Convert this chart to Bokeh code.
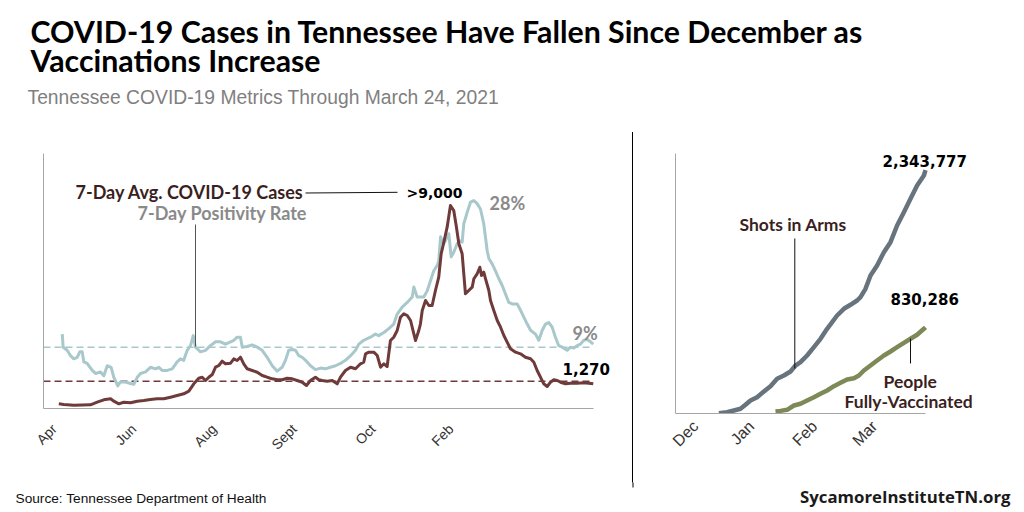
import math
from bokeh.plotting import figure
from bokeh.models import Range1d, FixedTicker, Label, Div
from bokeh.layouts import column, row
from bokeh.embed import file_html
from bokeh.resources import INLINE

# ---------------- data: left panel (days since start of series) ----------------
rate_day = [2.3, 2.9, 5.6, 7.8, 10, 12.3, 14, 15.6, 16.7, 18.9, 22.3, 24.5, 27.8, 30, 32.3, 34.9, 36.7, 39.3,
            41.1, 44.5, 47.8, 50, 52.3, 54.5, 57.8, 61.1, 64.5, 66.7, 68.9, 72.3, 75.6, 78.9, 81.1, 83.3, 85.6,
            87.8, 89.6, 91.1, 94.5, 97.8, 101.1, 104.5, 107.8, 111.1, 114.5, 116.7, 118.9, 121.1, 122.3, 125.6,
            128.9, 132.3, 135.6, 138.9, 142.3, 145.6, 148.9, 151.1, 153.3, 155.6, 157.8, 160, 162.3, 164.5, 167.8,
            171.1, 174.5, 177.8, 181.1, 184.5, 187.8, 191.1, 194.5, 197.8, 200, 203.3, 205.6, 207.8, 211.1, 213.3,
            216.7, 220, 223.3, 225.6, 228.9, 232.3, 235.6, 236.7, 238.9, 241.1, 243.3, 245.6, 247.8, 250, 252.3,
            253.3, 254.5, 256.3, 257.8, 258.9, 260, 261.6, 263.3, 265.6, 267.3, 268.9, 270, 272.3, 274.5, 276.7,
            278.9, 281.1, 283.3, 285.6, 286.7, 288.9, 291.1, 293.3, 295.6, 297.8, 300, 302.3, 305.6, 307.8, 310,
            312.3, 314.5, 317.8, 320, 322.3, 324.5, 326.7, 328.9, 331.1, 333.3, 335.6, 338.9, 341.1, 343.3, 345.6,
            347.8, 350, 352.3, 354.5, 356.3]
rate_pct = [10.7, 9.0, 8.6, 7.9, 7.5, 7.7, 8.4, 8.4, 7.1, 6.9, 6.0, 5.6, 5.8, 5.3, 6.6, 6.4, 5.1, 4.0,
            4.5, 4.5, 4.3, 4.2, 5.1, 5.6, 5.8, 6.4, 6.2, 6.4, 6.0, 6.0, 6.2, 7.1, 7.5, 7.3, 8.6,
            9.2, 10.5, 9.0, 8.4, 8.6, 9.2, 9.7, 9.7, 9.4, 9.7, 9.9, 10.3, 10.3, 9.0, 9.1,
            9.3, 9.0, 8.6, 7.7, 6.6, 5.9, 6.4, 7.3, 8.6, 8.7, 8.6, 7.9, 7.7, 7.3, 6.6,
            6.1, 6.3, 6.2, 6.4, 6.6, 6.9, 7.3, 7.9, 8.6, 9.4, 9.9, 10.1, 10.3, 10.7, 10.5,
            10.9, 11.4, 12.0, 13.3, 14.2, 14.8, 15.5, 16.8, 15.5, 15.5, 15.5, 16.3, 17.6, 18.9, 19.6,
            20.2, 23.3, 22.4, 22.8, 23.3, 23.7, 20.7, 21.3, 22.4, 22.8, 22.6, 25.0, 26.5, 27.8, 28.0,
            27.6, 26.9, 25.0, 21.5, 20.5, 19.8, 18.9, 17.9, 17.0, 15.9, 14.8, 14.6, 14.6, 13.8, 12.9,
            12.0, 11.2, 10.7, 9.9, 11.2, 12.0, 12.2, 11.6, 10.3, 9.2, 9.0, 8.6, 9.0, 8.9, 9.2,
            9.4, 9.9, 10.0, 9.7, 9.4]
case_day = [0, 3.3, 10, 21.1, 25.6, 30, 34.5, 36.7, 40, 43.3, 47.8, 52.3, 56.7, 61.1, 65.6, 70, 74.5, 78.9,
            83.3, 86.7, 90, 93.3, 95.6, 97.8, 100, 102.3, 104.5, 106.7, 108.9, 111.1, 114.5, 116.7, 118.9, 121.1,
            123.3, 125.6, 128.9, 132.3, 135.6, 138.9, 142.3, 145.6, 148.9, 152.3, 155.6, 158.9, 162.3, 165.1,
            167.8, 171.1, 173.3, 175.6, 178.9, 182.3, 185.6, 187.8, 191.1, 194.5, 197.8, 201.1, 203.3, 204.5,
            206.7, 210, 212.3, 214.5, 216.7, 218.9, 221.1, 223.3, 225.6, 227.8, 230, 232.3, 234.5, 236.7, 237.8,
            240, 241.1, 242.3, 244.5, 246.7, 248.9, 251.1, 253.3, 254.9, 256.7, 258.9, 261.1, 263.3, 265.1,
            266.7, 268.9, 270, 271.1, 273.3, 275.6, 276.7, 278.9, 280.7, 281.8, 283.3, 284.5, 286.7, 287.8, 290,
            292.3, 294.5, 296.7, 298.9, 301.1, 304.5, 307.8, 311.1, 314.5, 316.7, 318.9, 321.1, 323.3, 325.6,
            327.8, 330, 332.3, 334.5, 337.8, 341.1, 345.6, 350, 353.3, 356.3]
case_avg = [218, 186, 153, 172, 293, 405, 451, 340, 218, 293, 265, 340, 372, 419, 451, 451, 526, 605,
            684, 805, 1149, 1409, 1456, 1302, 1456, 1581, 1921, 2000, 2200, 2079, 2107, 2312, 2233, 2386,
            2079, 1847, 1767, 1688, 1535, 1456, 1381, 1335, 1335, 1409, 1381, 1302, 1223, 1070,
            1302, 1456, 1335, 1302, 1270, 1302, 1149, 1456, 1767, 1921, 1847, 2079, 2153, 2544,
            2619, 2619, 2465, 1921, 2079, 1953, 3163, 3316, 3628, 4247, 4405, 4326, 4093, 3474, 3163,
            3628, 3940, 4558, 5023, 4791, 4791, 5488, 6107, 7195, 7735, 8433, 9442, 9209, 8433,
            7660, 7195, 6265, 5335, 5488, 5642, 6033, 6265, 6572, 6186, 6340, 6033, 5488, 5023, 4558,
            4093, 3781, 3395, 3084, 2777, 2619, 2544, 2386, 2312, 2153, 1767, 1456, 1149, 1023,
            1223, 1335, 1302, 1223, 1149, 1177, 1177, 1195, 1177, 1149]
left_ticks = [-3, 50, 103.5, 157, 209.5, 261.5]
left_tick_labels = ["Apr", "Jun", "Aug", "Sept", "Oct", "Feb"]
rate_ref = 9
case_ref = 1270

# ---------------- data: right panel (days since Dec 1, 2020) ----------------
shots_day = [10.7, 14.8, 18.2, 21.5, 24, 26.5, 29.8, 33.2, 36.5, 39.8, 43.2, 46.5, 49, 51.5, 54.8, 58.2, 61.5,
             64.8, 69.8, 73.2, 76.5, 79.8, 81.5, 84, 86.5, 89.8, 93.2, 96.5, 99.8, 103.2, 106.5, 109.8, 113.2, 114]
shots_total = [3000, 12500, 28900, 45300, 83800, 125200, 157000, 211900, 262900, 334200, 365900, 404500,
               462200, 494000, 558500, 638500, 719400, 815700, 943700, 1008300, 1046800, 1088200, 1120000,
               1200900, 1328900, 1425200, 1553300, 1649600, 1810400, 1938500, 2067600, 2195600, 2291900, 2343777]
full_day = [39, 41.5, 44.8, 48.2, 51.5, 54.8, 58.2, 61.5, 64.8, 68.2, 71.5, 74.8, 78.2, 80.7, 83.2, 86.5,
            89.8, 93.2, 96.5, 99.8, 103.2, 106.5, 109.8, 113.2, 114]
full_total = [20000, 25000, 35600, 77000, 93400, 125200, 157000, 189700, 221500, 262900, 295600, 327400,
              339900, 365900, 414100, 462200, 510400, 558500, 597100, 638500, 680800, 719400, 757900, 815700, 830286]
right_ticks = [-1, 27, 58.5, 88.5]
right_tick_labels = ["Dec", "Jan", "Feb", "Mar"]

# ---------------- styles ----------------
C_CASE = "#6f3a3a"
C_RATE = "#a8c8cc"
C_SHOT = "#67737d"
C_FULL = "#7d8a58"
C_AXIS = "#a6a6a6"
C_LBL_DARK = "#3b1f1f"
C_GRAY = "#8a8a8a"
F_HEAD = "Lato"
F_NUM = "DejaVu Sans"
F_SANS = "Liberation Sans"


def base_fig(w, h, xr, yr, bl, br, bt, bb, axes=True):
    kw = dict(width=w, height=h, x_range=xr, y_range=yr, output_backend="svg",
              toolbar_location=None, min_border_left=bl, min_border_right=br,
              min_border_top=bt, min_border_bottom=bb)
    if not axes:
        kw.update(x_axis_type=None, y_axis_type=None)
    p = figure(**kw)
    p.outline_line_color = None
    p.background_fill_color = "white"
    p.border_fill_color = "white"
    if axes:
        p.xgrid.grid_line_color = None
        p.ygrid.grid_line_color = None
    return p


def mapper(p0, p1, v0, v1):
    return lambda px: v0 + (px - p0) * (v1 - v0) / (p1 - p0)


def lab(p, x, y, text, size, color, font, bold=True, align="left"):
    p.add_layout(Label(x=x, y=y, text=text, text_font=font, text_font_size=size,
                       text_font_style="bold" if bold else "normal", text_color=color,
                       text_align=align, text_baseline="middle"))


def style_axes(p, ticks, labels, size, standoff, xbounds):
    ax = p.xaxis[0]
    ax.ticker = FixedTicker(ticks=ticks)
    ax.major_label_overrides = {t: l for t, l in zip(ticks, labels)}
    ax.major_label_orientation = math.pi / 4
    ax.major_tick_line_color = None
    ax.minor_tick_line_color = None
    ax.major_tick_out = 0
    ax.major_tick_in = 0
    ax.axis_line_color = C_AXIS
    ax.bounds = xbounds
    ax.major_label_text_font = F_SANS
    ax.major_label_text_font_size = size
    ax.major_label_text_color = "#333333"
    ax.major_label_standoff = standoff
    ay = p.yaxis[0]
    ay.ticker = FixedTicker(ticks=[])
    ay.major_tick_line_color = None
    ay.minor_tick_line_color = None
    ay.major_tick_out = 0
    ay.major_label_standoff = 0
    ay.axis_line_color = C_AXIS


W, H = 1024, 512
HEAD_H, ROW_H = 126, 356
ROW_END = HEAD_H + ROW_H
FOOT_H = H - ROW_END
LEFT_W, SEP_W = 631, 3
RIGHT_W = W - LEFT_W - SEP_W
SEP_X = 632.5
FR_TOP = 153

# ---------------- header ----------------
head = base_fig(W, HEAD_H, Range1d(0, W), Range1d(HEAD_H, 0), 0, 0, 0, 0, axes=False)
lab(head, 30, 30.5, "COVID-19 Cases in Tennessee Have Fallen Since December as", "30.3px", "#000000", F_HEAD)
lab(head, 30, 59.5, "Vaccinations Increase", "30.3px", "#000000", F_HEAD)
lab(head, 27, 96.5, "Tennessee COVID-19 Metrics Through March 24, 2021", "19.3px", "#7f7f7f", F_SANS, bold=False)

# ---------------- left panel ----------------
L_X0, L_X1, L_Y0 = 43, 625, 408      # frame in page px (L_Y0 = x-axis line)
L_AXIS_END = 593
lx_r = (-10.2, -10.2 + (L_X1 - L_X0) / 1.5)
CASE_PX = 0.0215                     # px per case
RATE_PX = 7.72                       # px per percentage point
RATE_ZERO_Y = 416.2
case_r = (0, (L_Y0 - FR_TOP) / CASE_PX)
rate_r = ((RATE_ZERO_Y - L_Y0) / RATE_PX, (RATE_ZERO_Y - FR_TOP) / RATE_PX)
left = base_fig(LEFT_W, ROW_H, Range1d(*lx_r), Range1d(*case_r),
                L_X0, LEFT_W - L_X1, FR_TOP - HEAD_H, ROW_END - L_Y0)
left.extra_y_ranges = {"rate": Range1d(*rate_r)}
lx = mapper(L_X0, L_X1, *lx_r)
ly = mapper(L_Y0, FR_TOP, *case_r)
style_axes(left, left_ticks, left_tick_labels, "14px", 18, (lx_r[0], lx(L_AXIS_END)))

left.line([lx(L_X0), lx(592)], [rate_ref, rate_ref], y_range_name="rate", line_color=C_RATE,
          line_width=1.6, line_dash="7 4")
left.line([lx(L_X0), lx(592)], [case_ref, case_ref], line_color=C_CASE, line_width=1.6, line_dash="7 4")
left.line(rate_day, rate_pct, y_range_name="rate", line_color=C_RATE, line_width=3, line_join="round")
left.line(case_day, case_avg, line_color=C_CASE, line_width=3, line_join="round")

# leader lines
left.segment(x0=[lx(305)], y0=[ly(192.5)], x1=[lx(397)], y1=[ly(191.8)], line_color="#111111", line_width=1)
left.segment(x0=[lx(195)], y0=[ly(224)], x1=[lx(195)], y1=[ly(346)], line_color="#555555", line_width=1)

lab(left, lx(75), ly(191.7), "7-Day Avg. COVID-19 Cases", "18px", C_LBL_DARK, F_HEAD)
lab(left, lx(137), ly(212.5), "7-Day Positivity Rate", "18px", C_GRAY, F_HEAD)
lab(left, lx(406), ly(192.5), ">9,000", "14px", "#000000", F_NUM)
lab(left, lx(489), ly(202), "28%", "18px", C_GRAY, F_HEAD)
lab(left, lx(572), ly(332.5), "9%", "18px", C_GRAY, F_HEAD)
lab(left, lx(562), ly(368.3), "1,270", "15px", "#000000", F_NUM)

# ---------------- separator ----------------
sep = Div(text='<div style="position:absolute;left:1px;top:6px;width:1px;height:%dpx;background:#000;"></div>'
          % (ROW_END - HEAD_H - 4), width=SEP_W, height=ROW_H, margin=0,
          styles={"position": "relative", "overflow": "visible"})

# ---------------- right panel ----------------
R_ORIGIN = LEFT_W + SEP_W
R_X0, R_X1, R_Y0 = 675, 1018, 413
R_AXIS_END = 925
rx_r = (-11, -11 + (R_X1 - R_X0) / 2.0)
vax_r = (0, 2503800)
right = base_fig(RIGHT_W, ROW_H, Range1d(*rx_r), Range1d(*vax_r),
                 R_X0 - R_ORIGIN, W - R_X1, FR_TOP - HEAD_H, ROW_END - R_Y0)
rx = mapper(R_X0, R_X1, *rx_r)
ry = mapper(R_Y0, FR_TOP, *vax_r)
style_axes(right, right_ticks, right_tick_labels, "16px", 10, (rx_r[0], rx(R_AXIS_END)))

right.line(shots_day, shots_total, line_color=C_SHOT, line_width=4.5, line_join="round")
right.line(full_day, full_total, line_color=C_FULL, line_width=4.5, line_join="round")
right.segment(x0=[rx(794.3)], y0=[ry(238)], x1=[rx(794.3)], y1=[ry(368)], line_color="#111111", line_width=1)
right.segment(x0=[rx(910)], y0=[ry(338)], x1=[rx(910)], y1=[ry(363)], line_color="#111111", line_width=1)

lab(right, rx(882), ry(160.8), "2,343,777", "15px", "#000000", F_NUM)
lab(right, rx(890), ry(298.7), "830,286", "15px", "#000000", F_NUM)
lab(right, rx(739), ry(223.8), "Shots in Arms", "17.5px", C_LBL_DARK, F_HEAD)
lab(right, rx(883), ry(380.5), "People", "17.5px", C_LBL_DARK, F_HEAD)
lab(right, rx(844), ry(400.5), "Fully-Vaccinated", "17.5px", C_LBL_DARK, F_HEAD)

# ---------------- footer ----------------
foot = base_fig(W, FOOT_H, Range1d(0, W), Range1d(H, ROW_END), 0, 0, 0, 0, axes=False)
foot.segment(x0=[SEP_X], y0=[ROW_END - 1], x1=[SEP_X], y1=[487], line_color="#000000", line_width=1)
lab(foot, 15, 498, "Source: Tennessee Department of Health", "13.7px", "#111111", F_SANS, bold=False)
lab(foot, 1010, 496, "SycamoreInstituteTN.org", "16.8px", "#1a1a1a", "Open Sans", align="right")

layout = column(head, row(column(left), sep, column(right)), foot)
open("out.html", "w").write(file_html(layout, INLINE))
